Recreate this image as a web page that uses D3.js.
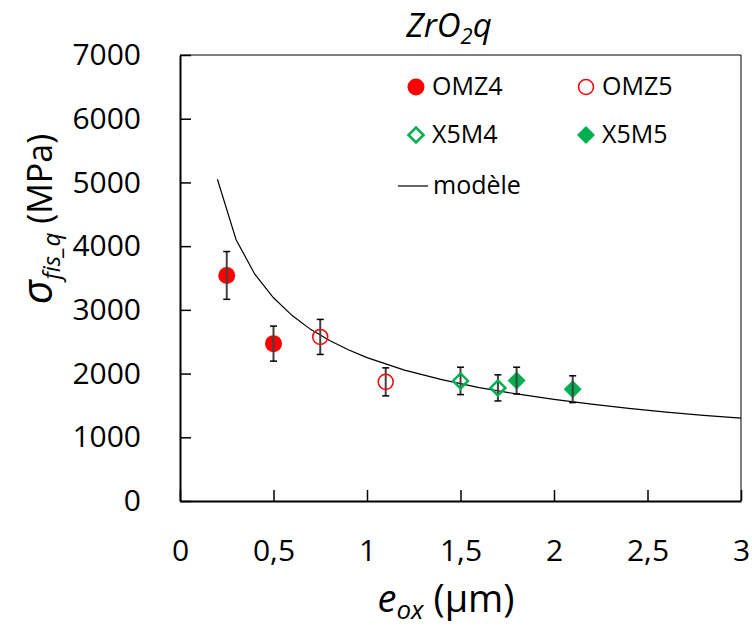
<!DOCTYPE html>
<html>
<head>
<meta charset="utf-8">
<script src="https://cdn.jsdelivr.net/npm/d3@7"></script>
<style>
  body { margin: 0; background: #fff; }
  svg { display: block; font-family: "Open Sans", sans-serif; }
</style>
</head>
<body>
<div id="chart"></div>
<script>
// values
const omz4X = [0.25, 0.5]
const omz4Y = [3540, 2470]
const omz4Err = [375, 275]
const omz5X = [0.75, 1.1]
const omz5Y = [2575, 1870]
const omz5Err = [275, 220]
const x5m4X = [1.5, 1.7]
const x5m4Y = [1885, 1775]
const x5m4Err = [215, 205]
const x5m5X = [1.8, 2.1]
const x5m5Y = [1890, 1755]
const x5m5Err = [210, 210]
const modelX = [0.2, 0.3, 0.4, 0.5, 0.6, 0.7, 0.8, 0.9, 1.0, 1.2, 1.4, 1.6, 1.8, 2.0, 2.2, 2.4, 2.6, 2.8, 3.0]
const modelY = [5050, 4100, 3560, 3190, 2910, 2690, 2520, 2375, 2250, 2055, 1905, 1780, 1680, 1595, 1520, 1455, 1395, 1345, 1300]
const xTicks = [0, 0.5, 1, 1.5, 2, 2.5, 3]
const yTicks = [0, 1000, 2000, 3000, 4000, 5000, 6000, 7000]

const width = 752
const height = 631
const red = '#ff0000'
const green = '#00b050'

const svg = d3.select('#chart').append('svg')
  .attr('width', width)
  .attr('height', height)
  .attr('viewBox', [0, 0, width, height])

const x = d3.scaleLinear().domain([0, 3]).range([180, 741])
const y = d3.scaleLinear().domain([0, 7000]).range([501, 55])

// frame: top and right thin
svg.append('path')
  .attr('d', `M${x(0)},${y(7000)}H${x(3)}V${y(0)}`)
  .attr('fill', 'none')
  .attr('stroke', '#000')
  .attr('stroke-width', 1)

const fmt = d => String(d).replace('.', ',')

const yAxis = svg.append('g')
  .attr('transform', `translate(${x(0)},0)`)
  .call(d3.axisLeft(y).tickValues(yTicks).tickFormat(d3.format('d')).tickSizeInner(-11).tickSizeOuter(0).tickPadding(39))
  .attr('font-family', null)
yAxis.select('.domain').attr('stroke-width', 2)
yAxis.selectAll('.tick line').attr('stroke-width', 1.5)
yAxis.selectAll('.tick text').attr('font-size', 30).attr('fill', '#000')

const xAxis = svg.append('g')
  .attr('transform', `translate(0,${y(0)})`)
  .call(d3.axisBottom(x).tickValues(xTicks).tickFormat(fmt).tickSizeInner(-11).tickSizeOuter(0).tickPadding(39))
  .attr('font-family', null)
xAxis.select('.domain').attr('stroke-width', 2)
xAxis.selectAll('.tick line').attr('stroke-width', 1.5)
xAxis.selectAll('.tick text').attr('font-size', 30).attr('fill', '#000')

// model curve
const model = modelX.map((v, i) => [v, modelY[i]])
svg.append('path')
  .datum(model)
  .attr('d', d3.line().x(d => x(d[0])).y(d => y(d[1])))
  .attr('fill', 'none')
  .attr('stroke', '#000')
  .attr('stroke-width', 1.2)

const series = [
  {name: 'OMZ4', xs: omz4X, ys: omz4Y, err: omz4Err, shape: 'circle', filled: true, color: red},
  {name: 'OMZ5', xs: omz5X, ys: omz5Y, err: omz5Err, shape: 'circle', filled: false, color: red},
  {name: 'X5M4', xs: x5m4X, ys: x5m4Y, err: x5m4Err, shape: 'diamond', filled: false, color: green},
  {name: 'X5M5', xs: x5m5X, ys: x5m5Y, err: x5m5Err, shape: 'diamond', filled: true, color: green}
]

function drawMarker(g, s, cx, cy) {
  if (s.shape === 'circle') {
    g.append('circle')
      .attr('cx', cx).attr('cy', cy)
      .attr('r', s.filled ? 8.5 : 7.5)
      .attr('fill', s.filled ? s.color : 'none')
      .attr('stroke', s.filled ? 'none' : s.color)
      .attr('stroke-width', 1.5)
  } else {
    const r = s.filled ? 9 : 7.5
    g.append('path')
      .attr('d', `M${cx},${cy - r}L${cx + r},${cy}L${cx},${cy + r}L${cx - r},${cy}Z`)
      .attr('fill', s.filled ? s.color : 'none')
      .attr('stroke', s.filled ? 'none' : s.color)
      .attr('stroke-width', 2.5)
  }
}

const pts = svg.append('g')
series.forEach(s => {
  s.xs.forEach((v, i) => {
    const cx = x(v)
    const top = y(s.ys[i] + s.err[i])
    const bot = y(s.ys[i] - s.err[i])
    // filled markers under the bar, open ones on top
    if (s.filled) drawMarker(pts, s, cx, y(s.ys[i]))
    pts.append('line')
      .attr('x1', cx).attr('x2', cx).attr('y1', top).attr('y2', bot)
      .attr('stroke', '#404040').attr('stroke-width', 2)
    ;[top, bot].forEach(yy => pts.append('line')
      .attr('x1', cx - 3.5).attr('x2', cx + 3.5).attr('y1', yy).attr('y2', yy)
      .attr('stroke', '#000').attr('stroke-width', 1.5))
    if (!s.filled) drawMarker(pts, s, cx, y(s.ys[i]))
  })
})

// legend
const legend = svg.append('g')
const legendPos = [[416, 87], [586, 87], [416, 135], [586, 135]]
series.forEach((s, i) => {
  const [lx, ly] = legendPos[i]
  drawMarker(legend, s, lx, ly)
  legend.append('text')
    .attr('x', lx + 16)
    .attr('y', ly + 8)
    .attr('font-size', 25)
    .text(s.name)
})
legend.append('line')
  .attr('x1', 398).attr('x2', 428).attr('y1', 186).attr('y2', 186)
  .attr('stroke', '#000').attr('stroke-width', 1.2)
legend.append('text')
  .attr('x', 433).attr('y', 194)
  .attr('font-size', 25)
  .text('modèle')

// title
const title = svg.append('text')
  .attr('x', 449).attr('y', 37)
  .attr('text-anchor', 'middle')
  .attr('font-size', 33)
  .attr('font-style', 'italic')
title.append('tspan').text('ZrO')
title.append('tspan').attr('font-size', 22).attr('dy', 7).text('2')
title.append('tspan').attr('dy', -7).text('q')

// x label
const xLabel = svg.append('text')
  .attr('x', 446).attr('y', 612)
  .attr('text-anchor', 'middle')
  .attr('font-size', 38)
xLabel.append('tspan').attr('font-style', 'italic').text('e')
xLabel.append('tspan').attr('font-style', 'italic').attr('font-size', 26).attr('dy', 7).text('ox')
xLabel.append('tspan').attr('dy', -7).text(' (µm)')

// y label
const yLabel = svg.append('text')
  .attr('transform', 'translate(52,219) rotate(-90)')
  .attr('text-anchor', 'middle')
  .attr('font-size', 34)
yLabel.append('tspan').attr('font-style', 'italic').attr('font-size', 42).text('σ')
yLabel.append('tspan').attr('font-style', 'italic').attr('font-size', 24).attr('dy', 8).text('fis_q')
yLabel.append('tspan').attr('dy', -8).text(' (MPa)')
</script>
</body>
</html>
